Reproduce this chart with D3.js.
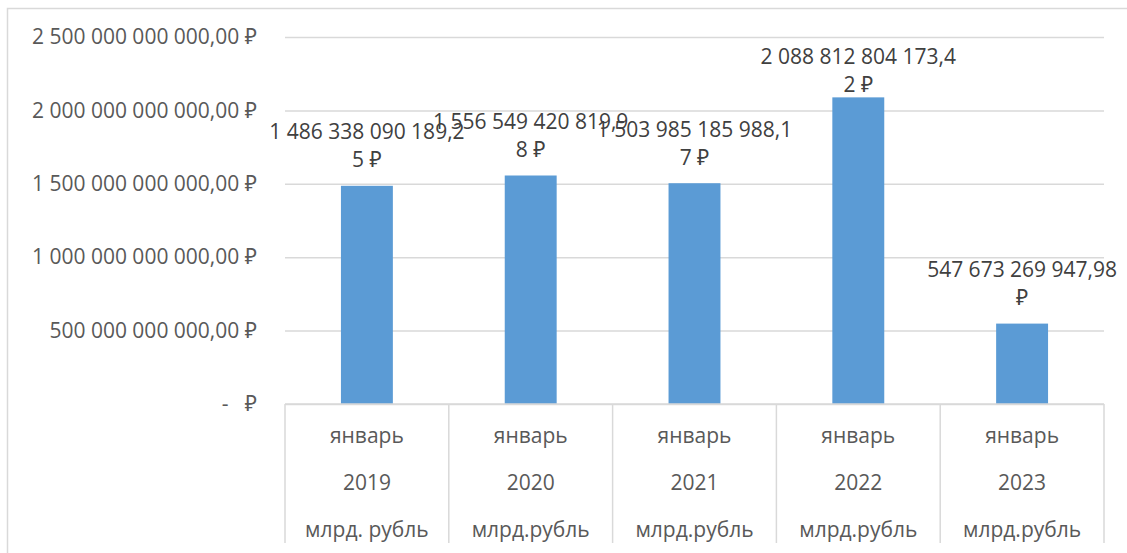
<!DOCTYPE html>
<html>
<head>
<meta charset="utf-8">
<script src="https://cdn.jsdelivr.net/npm/d3@7"></script>
<style>
  html, body { margin: 0; padding: 0; background: #fff; }
  svg { display: block; font-family: "Open Sans", "Noto Sans", sans-serif; }
</style>
</head>
<body>
<svg id="chart" width="1127" height="553"></svg>
<script>
// Monthly totals, January of each year (rubles)
const months = ["январь", "январь", "январь", "январь", "январь"];
const years = ["2019", "2020", "2021", "2022", "2023"];
const units = ["млрд. рубль", "млрд.рубль", "млрд.рубль", "млрд.рубль", "млрд.рубль"];
const values = [1486338090189.25, 1556549420819.98, 1503985185988.17, 2088812804173.42, 547673269947.98];
const yTicks = [0, 500e9, 1000e9, 1500e9, 2000e9, 2500e9];

const W = 1127, H = 553;
const plot = { left: 285, right: 1104, top: 37, bottom: 404 };
const tableBottom = 543;
const rowY = [436, 483, 530];
const fontSize = 21;
const gridColor = "#d9d9d9";
const axisText = "#595959";
const labelText = "#404040";
const barColor = "#5b9bd5";

const svg = d3.select("#chart");

const ru = d3.formatLocale({
  decimal: ",",
  thousands: "\u00a0",
  grouping: [3],
  currency: ["", "\u00a0₽"]
});
const money = ru.format("$,.2f");
const tickFmt = v => v === 0 ? "-\u00a0\u00a0\u00a0₽" : money(v);

const y = d3.scaleLinear().domain([0, 2500e9]).range([plot.bottom, plot.top]);
const cells = d3.scaleBand().domain(years).range([plot.left, plot.right]).padding(0);
const gap = 0.683;
const x = d3.scaleBand().domain(years).range([plot.left, plot.right])
  .paddingInner(gap).paddingOuter(gap / 2);

// chart frame (left and top edges)
svg.append("path")
  .attr("d", `M7.5,${H}V8.5H${W}`)
  .attr("fill", "none")
  .attr("stroke", gridColor)
  .attr("stroke-width", 1.5);

// value axis: gridlines + labels
const yAxis = svg.append("g")
  .attr("transform", `translate(${plot.left},0)`)
  .call(d3.axisLeft(y).tickValues(yTicks).tickFormat(tickFmt)
    .tickSize(-(plot.right - plot.left)).tickPadding(28));
yAxis.select(".domain").remove();
yAxis.selectAll(".tick line").attr("stroke", gridColor).attr("stroke-width", 1.5);
yAxis.selectAll(".tick text")
  .attr("fill", axisText)
  .style("font-size", fontSize + "px")
  .style("font-family", "\"Open Sans\", \"Noto Sans\", sans-serif");

// bars
svg.append("g").selectAll("rect")
  .data(values)
  .join("rect")
  .attr("x", (d, i) => x(years[i]))
  .attr("width", x.bandwidth())
  .attr("y", d => y(d))
  .attr("height", d => y(0) - y(d))
  .attr("fill", barColor);

// category table below the axis
const table = svg.append("g");
table.append("line")
  .attr("x1", plot.left).attr("x2", plot.right)
  .attr("y1", plot.bottom).attr("y2", plot.bottom)
  .attr("stroke", gridColor).attr("stroke-width", 1.5);
const bounds = years.map(c => cells(c)).concat([plot.right]);
table.selectAll("line.sep")
  .data(bounds)
  .join("line")
  .attr("class", "sep")
  .attr("x1", d => d).attr("x2", d => d)
  .attr("y1", plot.bottom).attr("y2", tableBottom)
  .attr("stroke", gridColor).attr("stroke-width", 1.5);

const rows = [months, years, units];
rows.forEach((row, r) => {
  table.append("g").selectAll("text")
    .data(row)
    .join("text")
    .attr("x", (d, i) => cells(years[i]) + cells.bandwidth() / 2)
    .attr("y", rowY[r])
    .attr("dy", "0.35em")
    .attr("text-anchor", "middle")
    .attr("fill", axisText)
    .style("font-size", fontSize + "px")
    .text(d => d);
});

// data labels, wrapped to 19 characters per line
function wrap(str, maxChars) {
  const words = str.split(" ");
  const lines = [];
  let cur = "";
  words.forEach(w => {
    const cand = cur ? cur + " " + w : w;
    if (cand.length <= maxChars) { cur = cand; return; }
    if (cur) lines.push(cur);
    cur = w;
    while (cur.length > maxChars) {
      lines.push(cur.slice(0, maxChars));
      cur = cur.slice(maxChars);
    }
  });
  if (cur) lines.push(cur);
  return lines;
}

const lineGap = 28;
const labels = svg.append("g");
values.forEach((v, i) => {
  const text = money(v).replace("\u00a0₽", " ₽");
  const lines = wrap(text, 19);
  let last = y(v) - 18.5;
  let first = last - lineGap * (lines.length - 1);
  const minFirst = 64;
  if (first < minFirst) { last += minFirst - first; first = minFirst; }
  const t = labels.append("text")
    .attr("text-anchor", "middle")
    .attr("fill", labelText)
    .style("font-size", fontSize + "px");
  lines.forEach((ln, k) => {
    t.append("tspan")
      .attr("x", x(years[i]) + x.bandwidth() / 2)
      .attr("y", first + k * lineGap)
      .text(ln);
  });
});
</script>
</body>
</html>
